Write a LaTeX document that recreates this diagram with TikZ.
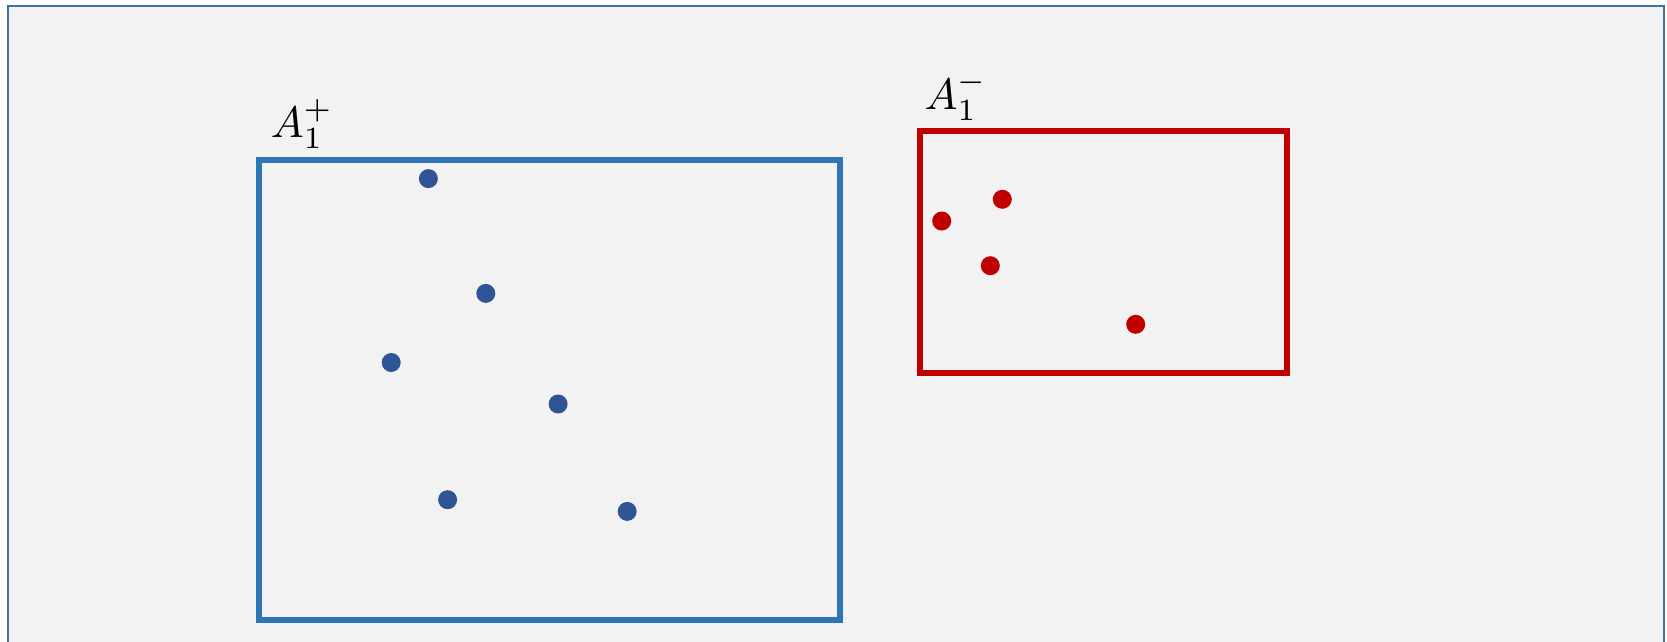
\documentclass[tikz,border=0pt]{standalone}
\usepackage{graphicx}
\usepackage{amsmath}
\definecolor{framecol}{HTML}{41719C}
\definecolor{bgcol}{HTML}{F2F2F2}
\definecolor{bluebox}{HTML}{2E75B6}
\definecolor{bluedot}{HTML}{2F5597}
\definecolor{redcol}{HTML}{C00000}
\newcommand{\biglabel}[1]{\scalebox{4.4}{$#1$}}
\begin{document}
\begin{tikzpicture}[x=1pt,y=-1pt,
  setbox/.style={draw, line width=6pt, inner sep=0pt, minimum width=#1},
  bdot/.style={circle, fill=bluedot, inner sep=0pt, minimum size=19pt},
  rdot/.style={circle, fill=redcol, inner sep=0pt, minimum size=19pt},
  setlabel/.style={inner sep=0pt}]
\useasboundingbox (0,0) rectangle (1667,642);
\clip (0,0) rectangle (1667,642);
\fill[white] (0,0) rectangle (1667,642);
\draw[framecol, line width=2.5pt, fill=bgcol] (8,6) rectangle (1664,700);
% blue set
\node[setbox=581pt, minimum height=460pt, draw=bluebox] (Aplus) at (549.5,390) {};
\node[setlabel] (Lplus) at (302,124) {\biglabel{A_1^{+}}};
\node[bdot] (b1) at (428.4,178.6) {};
\node[bdot] (b2) at (485.8,293.4) {};
\node[bdot] (b3) at (391.2,362.5) {};
\node[bdot] (b4) at (558.1,404) {};
\node[bdot] (b5) at (447.6,499.7) {};
\node[bdot] (b6) at (627.2,511.4) {};
% red set
\node[setbox=367pt, minimum height=242pt, draw=redcol] (Aminus) at (1103.5,252) {};
\node[setlabel] (Lminus) at (956,96) {\biglabel{A_1^{-}}};
\node[rdot] (r1) at (941.7,221) {};
\node[rdot] (r2) at (1002.3,199.3) {};
\node[rdot] (r3) at (990.3,265.7) {};
\node[rdot] (r4) at (1135.7,324.3) {};
\end{tikzpicture}
\end{document}
